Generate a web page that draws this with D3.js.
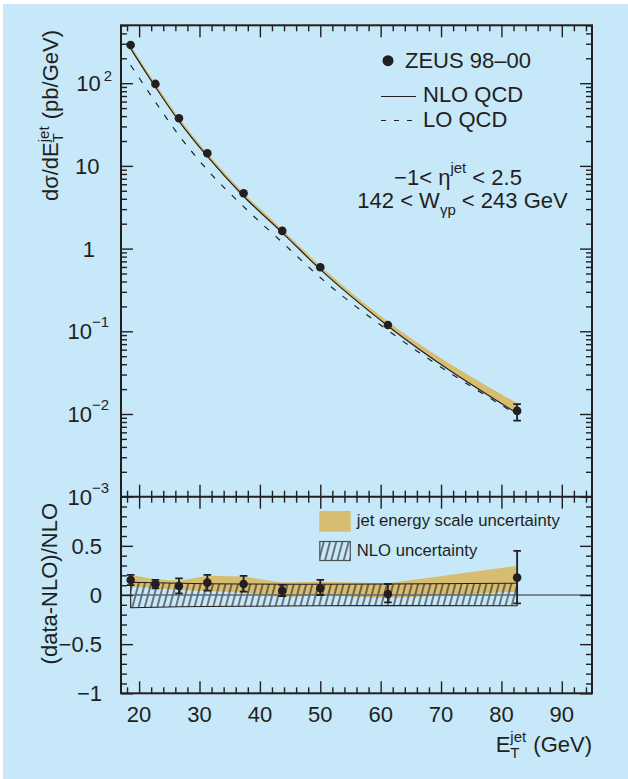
<!DOCTYPE html>
<html><head><meta charset="utf-8">
<script src="https://cdn.jsdelivr.net/npm/d3@7"></script>
<style>
body{margin:0;background:#fff}
svg{display:block}
text{font-family:"Liberation Sans",Arial,Helvetica,sans-serif;fill:#231f20;white-space:pre}
</style>
</head><body>
<svg id="c" width="628" height="779"></svg>
<script>
// ---------------- data ----------------
const etBins      = [18.6, 22.7, 26.6, 31.3, 37.3, 43.7, 50.0, 61.2, 82.6];
const xsecData    = [290, 98, 37.7, 14.2, 4.67, 1.636, 0.595, 0.119, 0.0109];
const xsecErrUp   = [4, 1.2, 0.5, 0.2, 0.06, 0.02, 0.008, 0.002, 0.0023];
const xsecErrDown = [4, 1.2, 0.5, 0.2, 0.06, 0.02, 0.008, 0.002, 0.0026];
const nloQCD      = [262, 90, 34.8, 13.0, 4.30, 1.56, 0.56, 0.116, 0.0102];
const loQCD       = [165, 59.2, 23.4, 8.95, 3.22, 1.19, 0.447, 0.1026, 0.0098];
const nloJesRel   = [0.10, 0.10, 0.10, 0.10, 0.10, 0.10, 0.11, 0.13, 0.32];

const ratioData    = [0.153, 0.109, 0.092, 0.126, 0.112, 0.044, 0.068, 0.010, 0.177];
const ratioErrUp   = [0.051, 0.044, 0.078, 0.078, 0.082, 0.058, 0.085, 0.102, 0.272];
const ratioErrDown = [0.053, 0.041, 0.075, 0.082, 0.078, 0.054, 0.068, 0.085, 0.262];
const jesBandHigh  = [0.204, 0.160, 0.146, 0.197, 0.187, 0.126, 0.136, 0.120, 0.296];
const jesBandLow   = [0.085, 0.068, 0.051, 0.041, 0.024, -0.024, 0.000, -0.034, 0.034];
const nloUncHigh   = [0.130, 0.125, 0.120, 0.115, 0.112, 0.110, 0.110, 0.112, 0.120];
const nloUncLow    = [-0.130, -0.125, -0.120, -0.117, -0.115, -0.112, -0.110, -0.108, -0.110];

const xTicks = [20, 30, 40, 50, 60, 70, 80, 90];
const yTopTicks = [1e-3, 1e-2, 1e-1, 1, 10, 100];
const yTopLabels = [["10","−3"],["10","−2"],["10","−1"],["1",""],["10",""],["10","2"]];
const yBotTicks = [-1, -0.5, 0, 0.5];
const yBotLabels = ["−1", "−0.5", "0", "0.5"];

// ---------------- style ----------------
const INK = "#231f20", BG = "#c6e8f9", TAN = "#d7bd70";
const L = 121, R = 592, T = 25.3, M = 496.7, B = 693.3;

const svg = d3.select("#c");
svg.append("rect").attr("x", 3).attr("y", 4).attr("width", 625).attr("height", 775).attr("fill", BG);

const x = d3.scaleLinear().domain([17, 95]).range([L, R]);
const yTop = d3.scaleLog().domain([1e-3, Math.pow(10, 2.7)]).range([M, T]);
const yBot = d3.scaleLinear().domain([-1, 1]).range([B, M]);

const defs = svg.append("defs");
function hatchPattern(id) {
  const p = defs.append("pattern").attr("id", id).attr("patternUnits", "userSpaceOnUse")
    .attr("width", 6).attr("height", 10).attr("patternTransform", "rotate(15)");
  p.append("line").attr("x1", 3).attr("y1", -1).attr("x2", 3).attr("y2", 11)
    .attr("stroke", INK).attr("stroke-width", 1.15);
}
hatchPattern("hatch");
hatchPattern("hatch2");

defs.append("clipPath").attr("id", "clipTop").append("rect").attr("x", L).attr("y", T).attr("width", R - L).attr("height", M - T);
defs.append("clipPath").attr("id", "clipBot").append("rect").attr("x", L).attr("y", M).attr("width", R - L).attr("height", B - M);

function rich(parent, px, py, parts, anchor, rot) {
  const g = parent.append("g").attr("transform", `translate(${px},${py})` + (rot ? ` rotate(${rot})` : ""));
  const inner = g.append("g");
  let cx = 0, stackX = null, stackW = 0;
  parts.forEach(p => {
    const fs = p.fs || 22;
    const t = inner.append("text").attr("x", stackX !== null && p.stack === "second" ? stackX : cx)
      .attr("y", p.dy || 0).style("font-size", fs + "px").text(p.t);
    const w = t.node().getComputedTextLength();
    if (p.stack === "first") { stackX = cx; stackW = w; return; }
    if (p.stack === "second") { cx = stackX + Math.max(stackW, w); stackX = null; cx += (p.dx || 0); return; }
    cx += w + (p.dx || 0);
  });
  const shift = anchor === "end" ? -cx : anchor === "middle" ? -cx / 2 : 0;
  inner.attr("transform", `translate(${shift},0)`);
  return g;
}

// ---------------- upper panel ----------------
const gTop = svg.append("g").attr("clip-path", "url(#clipTop)");
const rows = etBins.map((e, i) => ({e, i}));

gTop.append("path")
  .attr("fill", TAN)
  .attr("d", d3.area().curve(d3.curveMonotoneX)
    .x(d => x(d.e)).y0(d => yTop(nloQCD[d.i])).y1(d => yTop(nloQCD[d.i] * (1 + nloJesRel[d.i])))(rows));
gTop.append("path").attr("fill", "none").attr("stroke", INK).attr("stroke-width", 1.2)
  .attr("d", d3.line().curve(d3.curveMonotoneX).x(d => x(d.e)).y(d => yTop(nloQCD[d.i]))(rows));
gTop.append("path").attr("fill", "none").attr("stroke", INK).attr("stroke-width", 1.2)
  .attr("stroke-dasharray", "6,9")
  .attr("d", d3.line().curve(d3.curveMonotoneX).x(d => x(d.e)).y(d => yTop(loQCD[d.i]))(rows));

const RDOT = 4.3;
rows.forEach(d => {
  const cx = x(d.e);
  const y1 = yTop(xsecData[d.i] + xsecErrUp[d.i]), y2 = yTop(xsecData[d.i] - xsecErrDown[d.i]);
  const cy = yTop(xsecData[d.i]);
  gTop.append("line").attr("x1", cx).attr("x2", cx).attr("y1", y1).attr("y2", y2).attr("stroke", INK).attr("stroke-width", 1.8);
  if (cy - y1 > RDOT + 1) gTop.append("line").attr("x1", cx - 3.8).attr("x2", cx + 3.8).attr("y1", y1).attr("y2", y1).attr("stroke", INK).attr("stroke-width", 1.8);
  if (y2 - cy > RDOT + 1) gTop.append("line").attr("x1", cx - 3.8).attr("x2", cx + 3.8).attr("y1", y2).attr("y2", y2).attr("stroke", INK).attr("stroke-width", 1.8);
  gTop.append("circle").attr("cx", cx).attr("cy", cy).attr("r", RDOT).attr("fill", INK);
});

// ---------------- lower panel ----------------
const gBot = svg.append("g").attr("clip-path", "url(#clipBot)");
gBot.append("path").attr("fill", TAN)
  .attr("d", d3.area().x(d => x(d.e)).y0(d => yBot(jesBandLow[d.i])).y1(d => yBot(jesBandHigh[d.i]))(rows));
const hatchArea = d3.area().x(d => x(d.e)).y0(d => yBot(nloUncLow[d.i])).y1(d => yBot(nloUncHigh[d.i]));
gBot.append("path").attr("fill", "url(#hatch)").attr("stroke", INK).attr("stroke-width", 1.1)
  .attr("d", hatchArea(rows));
gBot.append("line").attr("x1", L).attr("x2", R).attr("y1", yBot(0)).attr("y2", yBot(0))
  .attr("stroke", "#5d6a72").attr("stroke-width", 1.3);
rows.forEach(d => {
  const cx = x(d.e);
  const y1 = yBot(ratioData[d.i] + ratioErrUp[d.i]), y2 = yBot(ratioData[d.i] - ratioErrDown[d.i]);
  gBot.append("line").attr("x1", cx).attr("x2", cx).attr("y1", y1).attr("y2", y2).attr("stroke", INK).attr("stroke-width", 1.8);
  [y1, y2].forEach(yy => gBot.append("line").attr("x1", cx - 3.8).attr("x2", cx + 3.8).attr("y1", yy).attr("y2", yy).attr("stroke", INK).attr("stroke-width", 1.8));
  gBot.append("circle").attr("cx", cx).attr("cy", yBot(ratioData[d.i])).attr("r", RDOT).attr("fill", INK);
});

// ---------------- axes / ticks ----------------
const xMinor = d3.range(18, 95, 2).filter(v => v % 10 !== 0);
const logMinor = [];
for (let dec = -3; dec <= 2; dec++) for (let k = 2; k <= 9; k++) { const v = k * Math.pow(10, dec); if (v <= Math.pow(10, 2.7)) logMinor.push(v); }
const linMinor = d3.range(-9, 10).map(v => v / 10).filter(v => Math.abs(v * 2 - Math.round(v * 2)) > 1e-6);

function tickAxis(axis, tx, ty) {
  const g = svg.append("g").attr("transform", `translate(${tx},${ty})`).call(axis);
  g.select(".domain").remove();
  g.selectAll(".tick line").attr("stroke", INK).attr("stroke-width", 1.4);
  g.selectAll(".tick text").remove();
}
const mk = (fn, sc, vals, size) => fn(sc).tickValues(vals).tickSize(-size).tickFormat("");
[[d3.axisTop, T], [d3.axisBottom, M], [d3.axisTop, M], [d3.axisBottom, B]].forEach(([fn, yy]) => {
  tickAxis(mk(fn, x, xTicks, 12), 0, yy);
  tickAxis(mk(fn, x, xMinor, 6), 0, yy);
});
tickAxis(mk(d3.axisLeft, yTop, yTopTicks, 12), L, 0);
tickAxis(mk(d3.axisLeft, yTop, logMinor, 6), L, 0);
tickAxis(mk(d3.axisRight, yTop, yTopTicks, 12), R, 0);
tickAxis(mk(d3.axisRight, yTop, logMinor, 6), R, 0);
tickAxis(mk(d3.axisLeft, yBot, yBotTicks, 12), L, 0);
tickAxis(mk(d3.axisLeft, yBot, linMinor, 6), L, 0);
tickAxis(mk(d3.axisRight, yBot, yBotTicks, 12), R, 0);
tickAxis(mk(d3.axisRight, yBot, linMinor, 6), R, 0);

svg.append("rect").attr("x", L).attr("y", T).attr("width", R - L).attr("height", B - T)
  .attr("fill", "none").attr("stroke", INK).attr("stroke-width", 2);
svg.append("line").attr("x1", L).attr("x2", R).attr("y1", M).attr("y2", M).attr("stroke", INK).attr("stroke-width", 2);

// tick labels
xTicks.forEach(v => svg.append("text").attr("x", x(v)).attr("y", 721.7).attr("text-anchor", "middle").style("font-size", "22px").text(v));
yTopTicks.forEach((v, i) => {
  const [base, ex] = yTopLabels[i];
  const yy = yTop(v) + 8;
  if (ex) {
    rich(svg, ex === "2" ? 112 : 109, yy, [{t: base, fs: 22, dx: ex === "2" ? 3 : 0}, {t: ex, fs: 15, dy: ex === "2" ? -10 : -12}], "end");
  } else {
    svg.append("text").attr("x", base === "1" ? 95 : 99.5).attr("y", yy).attr("text-anchor", "end").style("font-size", "22px").text(base);
  }
});
yBotTicks.forEach((v, i) => svg.append("text").attr("x", 102).attr("y", yBot(v) + 8).attr("text-anchor", "end").style("font-size", "22px").text(yBotLabels[i]));

// axis titles
rich(svg, 58, 30, [{t: "dσ/dE", fs: 22}, {t: "jet", fs: 15, dy: -9, stack: "first"}, {t: "T", fs: 15, dy: 5, stack: "second", dx: 1}, {t: " (pb/GeV)", fs: 22}], "end", -90);
rich(svg, 57, 503, [{t: "(data-NLO)/NLO", fs: 22}], "end", -90);
rich(svg, 592, 752, [{t: "E", fs: 22}, {t: "jet", fs: 15, dy: -10, stack: "first"}, {t: "T", fs: 15, dy: 6, stack: "second", dx: 1}, {t: " (GeV)", fs: 22}], "end");

// legend upper
svg.append("circle").attr("cx", 388).attr("cy", 60.7).attr("r", 5.5).attr("fill", INK);
svg.append("text").attr("x", 405).attr("y", 68.3).style("font-size", "22px").text("ZEUS 98–00");
svg.append("line").attr("x1", 381).attr("x2", 416).attr("y1", 96.5).attr("y2", 96.5).attr("stroke", INK).attr("stroke-width", 1.2);
svg.append("text").attr("x", 423).attr("y", 101.7).style("font-size", "22px").text("NLO QCD");
svg.append("line").attr("x1", 381).attr("x2", 416).attr("y1", 120.5).attr("y2", 120.5).attr("stroke", INK).attr("stroke-width", 1.2).attr("stroke-dasharray", "5,8");
svg.append("text").attr("x", 423).attr("y", 126.7).style("font-size", "22px").text("LO QCD");

rich(svg, 458, 185, [{t: "−1< η", fs: 22}, {t: "jet", fs: 15, dy: -12}, {t: " < 2.5", fs: 22}], "middle");
rich(svg, 462.5, 207.7, [{t: "142 < W", fs: 22}, {t: "γp", fs: 15, dy: 7}, {t: " < 243 GeV", fs: 22}], "middle");

// legend lower
svg.append("rect").attr("x", 319.3).attr("y", 511).attr("width", 31.4).attr("height", 20.7).attr("fill", TAN);
svg.append("text").attr("x", 356.7).attr("y", 525.7).style("font-size", "16.7px").text("jet energy scale uncertainty");
svg.append("rect").attr("x", 319.8).attr("y", 541.5).attr("width", 30.5).attr("height", 19).attr("fill", "url(#hatch2)").attr("stroke", "#4a5258").attr("stroke-width", 1.2);
svg.append("text").attr("x", 356.7).attr("y", 556).style("font-size", "16.7px").text("NLO uncertainty");
</script>
</body></html>
